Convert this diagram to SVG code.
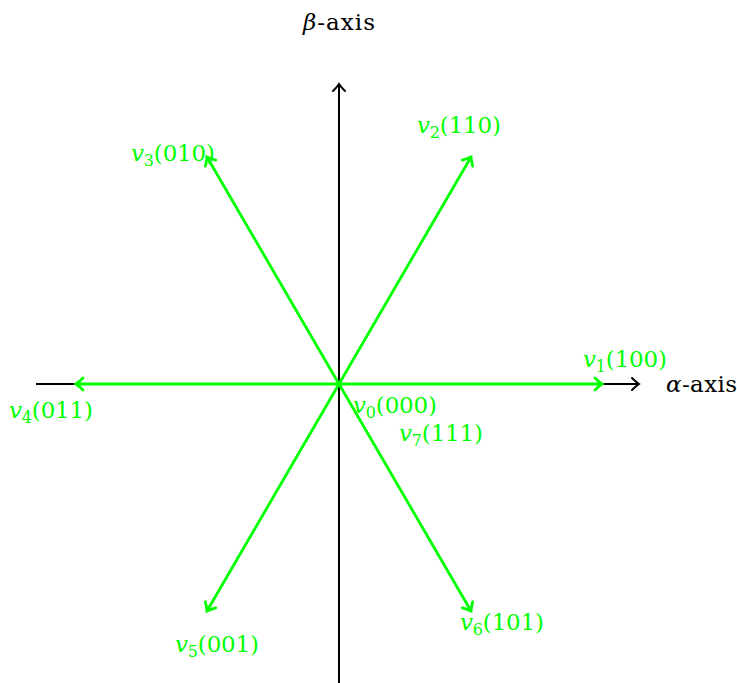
<svg xmlns="http://www.w3.org/2000/svg" width="737" height="683" viewBox="0 0 737 683">
<style>
.ax{stroke:#000;stroke-width:2;fill:none}
.vec{stroke:#00ff00;stroke-width:2.8;fill:none}
.g{fill:#00ff00}
.k{fill:#000}
.i{font-style:italic}
.s{font-size:16px}
</style>
<defs>
<marker id="ak" markerUnits="userSpaceOnUse" markerWidth="20" markerHeight="20" refX="10" refY="10" orient="auto" overflow="visible">
<path d="M3,4 Q7,8 10,10 Q7,12 3,16" fill="none" stroke="#000" stroke-width="2" stroke-linecap="round"/>
</marker>
<marker id="ag" markerUnits="userSpaceOnUse" markerWidth="20" markerHeight="20" refX="10" refY="10" orient="auto" overflow="visible">
<path d="M3,4 Q7,8 10,10 Q7,12 3,16" fill="none" stroke="#00ff00" stroke-width="2.8" stroke-linecap="round"/>
</marker>
</defs>
<g id="axes">
<line class="ax" x1="36" y1="384" x2="639" y2="384" marker-end="url(#ak)"/>
<line class="ax" x1="339" y1="683" x2="339" y2="84" marker-end="url(#ak)"/>
</g>
<g id="connectors">
<line class="vec" x1="339" y1="384" x2="602" y2="384" marker-end="url(#ag)"/>
<line class="vec" x1="339" y1="384" x2="471" y2="157" marker-end="url(#ag)"/>
<line class="vec" x1="339" y1="384" x2="207" y2="157" marker-end="url(#ag)"/>
<line class="vec" x1="339" y1="384" x2="76" y2="384" marker-end="url(#ag)"/>
<line class="vec" x1="339" y1="384" x2="207" y2="611" marker-end="url(#ag)"/>
<line class="vec" x1="339" y1="384" x2="471" y2="611" marker-end="url(#ag)"/>
</g>
<g font-family="'DejaVu Serif', serif" font-size="23">
<g id="beta-label"><text class="k" x="303" y="30" textLength="72"><tspan class="i">β</tspan>-axis</text></g>
<g id="alpha-label"><text class="k" x="666" y="392" textLength="71"><tspan class="i">α</tspan>-axis</text></g>
<g id="v1"><text class="g" x="583" y="367" textLength="84"><tspan class="i">v</tspan><tspan class="s" dy="5">1</tspan><tspan dy="-5">(100)</tspan></text></g>
<g id="v2"><text class="g" x="417" y="133" textLength="84"><tspan class="i">v</tspan><tspan class="s" dy="5">2</tspan><tspan dy="-5">(110)</tspan></text></g>
<g id="v3"><text class="g" x="131" y="161" textLength="84"><tspan class="i">v</tspan><tspan class="s" dy="5">3</tspan><tspan dy="-5">(010)</tspan></text></g>
<g id="v4"><text class="g" x="9" y="418" textLength="84"><tspan class="i">v</tspan><tspan class="s" dy="5">4</tspan><tspan dy="-5">(011)</tspan></text></g>
<g id="v5"><text class="g" x="175" y="652" textLength="84"><tspan class="i">v</tspan><tspan class="s" dy="5">5</tspan><tspan dy="-5">(001)</tspan></text></g>
<g id="v6"><text class="g" x="460" y="630" textLength="84"><tspan class="i">v</tspan><tspan class="s" dy="5">6</tspan><tspan dy="-5">(101)</tspan></text></g>
<g id="v0"><text class="g" x="353" y="413" textLength="84"><tspan class="i">v</tspan><tspan class="s" dy="5">0</tspan><tspan dy="-5">(000)</tspan></text></g>
<g id="v7"><text class="g" x="399" y="441" textLength="84"><tspan class="i">v</tspan><tspan class="s" dy="5">7</tspan><tspan dy="-5">(111)</tspan></text></g>
</g>
</svg>
